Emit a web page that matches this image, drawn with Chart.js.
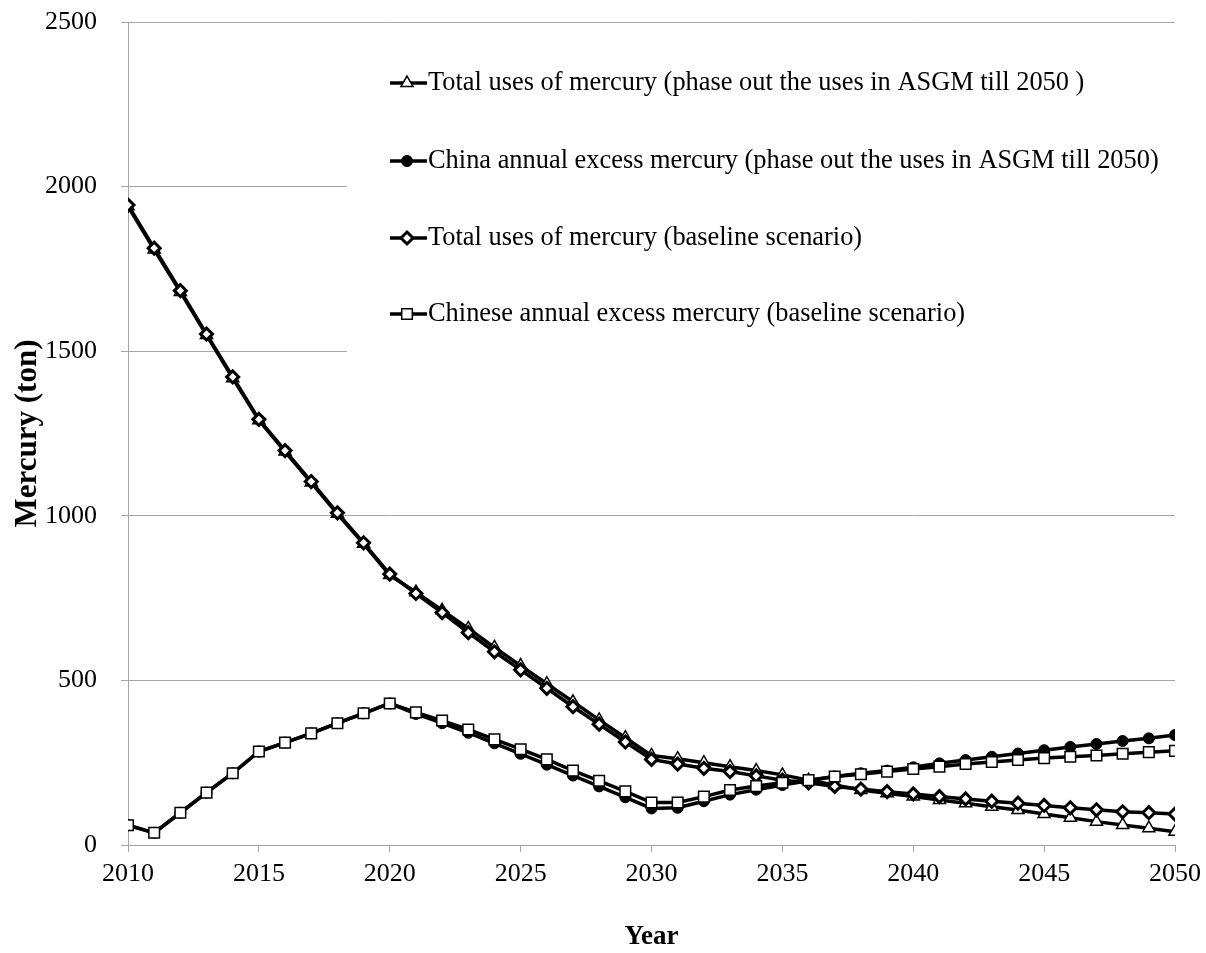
<!DOCTYPE html>
<html>
<head>
<meta charset="utf-8">
<script src="https://cdn.jsdelivr.net/npm/chart.js@4/dist/chart.umd.min.js"></script>
<style>
    html, body { margin: 0; padding: 0; background: #fff; }
    #wrap { width: 1206px; height: 953px; }
</style>
</head>
<body>
<div id="wrap"><canvas id="mercuryChart" width="1206" height="953"></canvas></div>
<script>
/* =========================
   DATA
========================= */

const years = [];
for (let y = 2010; y <= 2050; y++) years.push(y);

const yTicks = [0, 500, 1000, 1500, 2000, 2500];

// Total uses of mercury (phase out the uses in ASGM till 2050)
const totalPhaseOut = [1940, 1809, 1680, 1549, 1418, 1290, 1195, 1101, 1006, 915, 820,
    768, 713, 658, 600, 545, 490, 435, 380, 326, 272,
    262, 250, 238, 226, 213, 197, 182, 167, 157, 147,
    137, 127, 116, 106, 94, 83, 71, 61, 51, 40];

// China annual excess mercury (phase out the uses in ASGM till 2050)
const chinaPhaseOut = [60, 37, 98, 159, 218, 284, 311, 339, 370, 400, 430,
    398, 370, 341, 309, 277, 244, 211, 178, 145, 111,
    113, 133, 153, 168, 182, 195, 208, 218, 226, 236,
    248, 258, 268, 278, 288, 298, 307, 316, 324, 334];

// Total uses of mercury (baseline scenario)
const totalBaseline = [1944, 1813, 1684, 1552, 1422, 1293, 1198, 1104, 1009, 918, 823,
    764, 706, 645, 587, 532, 476, 420, 367, 313, 260,
    246, 233, 223, 210, 197, 189, 178, 170, 162, 155,
    147, 140, 133, 127, 120, 113, 107, 101, 98, 94];

// Chinese annual excess mercury (baseline scenario)
const chineseBaseline = [60, 37, 98, 159, 218, 284, 311, 339, 370, 400, 430,
    403, 378, 351, 321, 291, 260, 226, 195, 163, 129,
    129, 147, 167, 179, 189, 197, 208, 215, 223, 231,
    238, 246, 252, 258, 264, 268, 272, 277, 282, 286];

const seriesLabels = [
    "Total uses of mercury (phase out the uses in ASGM till 2050 )",
    "China annual excess mercury (phase out the uses in ASGM till 2050)",
    "Total uses of mercury (baseline scenario)",
    "Chinese annual excess mercury (baseline scenario)"
];

/* =========================
   HELPERS
========================= */

const SERIF = "'Times New Roman', 'Liberation Serif', serif";
const GRID = "#a6a6a6";

function toPoints(values) {
    return values.map((v, i) => ({ x: years[i], y: v }));
}

function series(label, values, style, order) {
    return {
        label: label,
        data: toPoints(values),
        borderColor: "#000",
        borderWidth: 3.5,
        pointStyle: style.pointStyle,
        pointRadius: style.radius,
        pointBorderWidth: style.borderWidth,
        pointBackgroundColor: style.fill,
        pointBorderColor: "#000",
        tension: 0,
        order: order
    };
}

const styles = [
    { pointStyle: "triangle", radius: 7, borderWidth: 1.5, fill: "#fff" },
    { pointStyle: "circle", radius: 5.5, borderWidth: 1, fill: "#000" },
    { pointStyle: "rectRot", radius: 6, borderWidth: 3, fill: "#fff" },
    { pointStyle: "rect", radius: 7.5, borderWidth: 1.5, fill: "#fff" }
];

/* =========================
   LEGEND (inside plot)
========================= */

const insideLegend = {
    id: "insideLegend",
    beforeDatasetsDraw(chart) {
        const ctx = chart.ctx;
        const area = chart.chartArea;
        const rows = [83, 161, 238, 314];

        ctx.save();
        ctx.fillStyle = "#fff";
        ctx.fillRect(347, 40, area.right - 347 + 1, 325);

        seriesLabels.forEach((text, i) => {
            const y = rows[i];
            const st = styles[i];

            ctx.strokeStyle = "#000";
            ctx.lineWidth = 3.5;
            ctx.beginPath();
            ctx.moveTo(390, y);
            ctx.lineTo(427, y);
            ctx.stroke();

            ctx.fillStyle = st.fill;
            ctx.strokeStyle = "#000";
            ctx.lineWidth = st.borderWidth;
            Chart.helpers.drawPoint(ctx, {
                pointStyle: st.pointStyle,
                radius: st.radius,
                borderWidth: st.borderWidth,
                rotation: 0
            }, 407, y);

            ctx.fillStyle = "#000";
            ctx.font = "26.4px " + SERIF;
            ctx.textBaseline = "middle";
            ctx.textAlign = "left";
            ctx.fillText(text, 428, y);
        });
        ctx.restore();
    }
};

/* =========================
   CHART
========================= */

const ctx = document.getElementById("mercuryChart");

new Chart(ctx, {
    type: "line",
    data: {
        datasets: [
            series(seriesLabels[0], totalPhaseOut, styles[0], 4),
            series(seriesLabels[1], chinaPhaseOut, styles[1], 3),
            series(seriesLabels[2], totalBaseline, styles[2], 2),
            series(seriesLabels[3], chineseBaseline, styles[3], 1)
        ]
    },
    options: {
        responsive: false,
        animation: false,
        layout: { padding: { left: 0, top: 22, right: 31, bottom: 0 } },
        plugins: {
            legend: { display: false },
            tooltip: { enabled: false }
        },
        scales: {
            x: {
                type: "linear",
                min: years[0],
                max: years[years.length - 1],
                afterFit: s => {
                    s.height = 108;
                    s.paddingLeft = 0;
                    s.paddingRight = 0;
                },
                ticks: {
                    stepSize: 5,
                    color: "#000",
                    padding: 7,
                    font: { family: SERIF, size: 26 },
                    callback: v => String(v)
                },
                grid: {
                    drawOnChartArea: false,
                    drawTicks: true,
                    tickLength: 7,
                    color: GRID
                },
                border: { display: true, color: GRID, width: 1 },
                title: {
                    display: true,
                    text: "Year",
                    color: "#000",
                    padding: { top: 0, bottom: 0 },
                    font: { family: SERIF, size: 27, weight: "bold" }
                }
            },
            y: {
                min: 0,
                max: yTicks[yTicks.length - 1],
                afterFit: s => {
                    s.width = 128;
                    s.paddingTop = 0;
                    s.paddingBottom = 0;
                },
                afterBuildTicks: s => { s.ticks = yTicks.map(v => ({ value: v })); },
                ticks: {
                    color: "#000",
                    padding: 24,
                    font: { family: SERIF, size: 26 },
                    callback: v => String(v)
                },
                grid: {
                    drawTicks: true,
                    tickLength: 7,
                    color: GRID,
                    lineWidth: 1
                },
                border: { display: true, color: GRID, width: 1 },
                title: {
                    display: true,
                    text: "Mercury (ton)",
                    color: "#000",
                    padding: { top: 9, bottom: 0 },
                    font: { family: SERIF, size: 31, weight: "bold" }
                }
            }
        }
    },
    plugins: [insideLegend]
});
</script>
</body>
</html>
